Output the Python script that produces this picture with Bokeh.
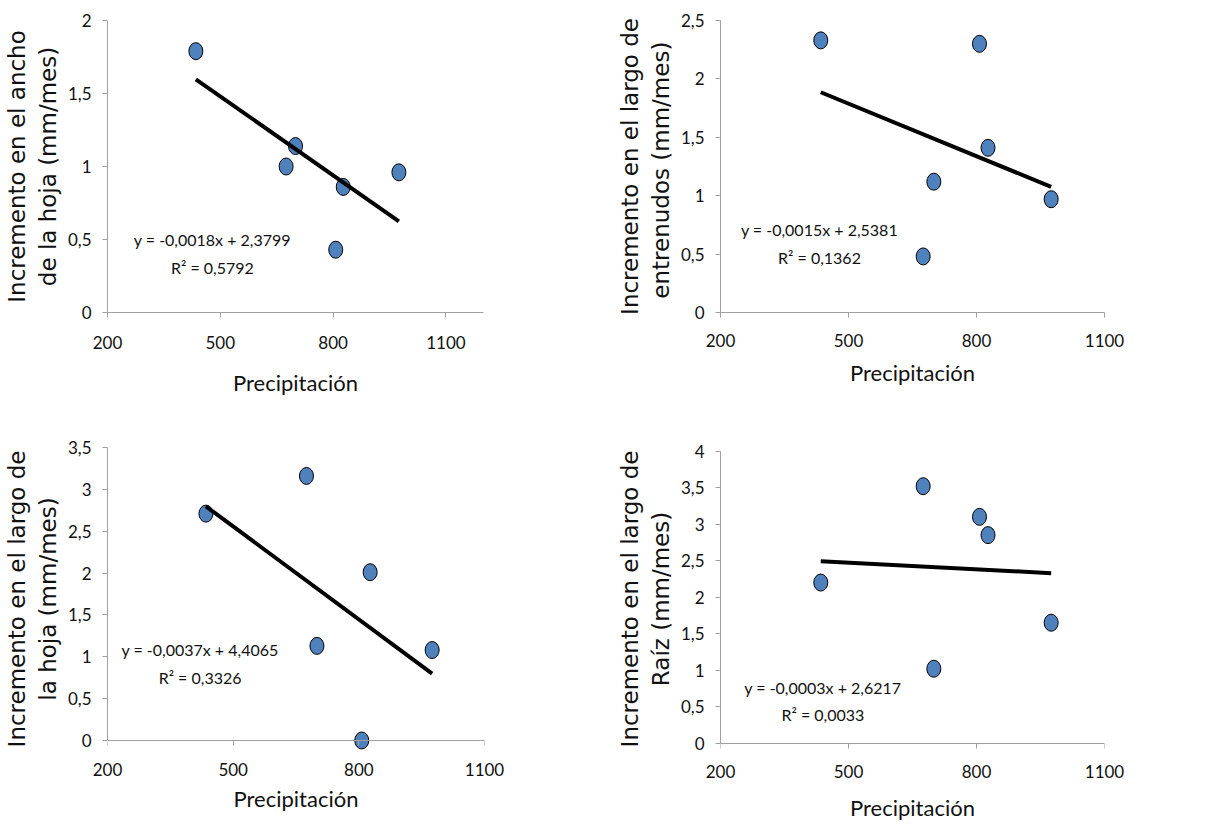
from bokeh.plotting import figure
from bokeh.layouts import column, row
from bokeh.models import Range1d, FixedTicker, Label, LinearAxis
from bokeh.embed import file_html
from bokeh.resources import INLINE

# ---------------- data ----------------
precipitacion = [435, 675, 700, 807, 827, 975]

ancho_hoja = [1.79, 1.00, 1.14, 0.43, 0.86, 0.96]
largo_entrenudos = [2.33, 0.48, 1.12, 2.30, 1.41, 0.97]
largo_hoja = [2.71, 3.16, 1.13, 0.00, 2.01, 1.08]
largo_raiz = [2.20, 3.52, 1.02, 3.10, 2.85, 1.65]

pendientes = [-0.0018, -0.0015, -0.0037, -0.0003]
interceptos = [2.3799, 2.5381, 4.4065, 2.6217]

ecuaciones = ["y = -0,0018x + 2,3799", "y = -0,0015x + 2,5381",
              "y = -0,0037x + 4,4065", "y = -0,0003x + 2,6217"]
r2_textos = ["R² = 0,5792", "R² = 0,1362", "R² = 0,3326", "R² = 0,0033"]

titulos_y = ["Incremento en el ancho\nde la hoja (mm/mes)",
             "Incremento en el largo de\nentrenudos  (mm/mes)",
             "Incremento en el largo de\nla hoja (mm/mes)",
             "Incremento en el largo de\nRaíz (mm/mes)"]
titulo_x = "Precipitación"

x_ticks = [200, 500, 800, 1100]
x_tick_labels = ["200", "500", "800", "1100"]

y_ticks_1 = [0, 0.5, 1, 1.5, 2]
y_labels_1 = ["0", "0,5", "1", "1,5", "2"]
y_ticks_2 = [0, 0.5, 1, 1.5, 2, 2.5]
y_labels_2 = ["0", "0,5", "1", "1,5", "2", "2,5"]
y_ticks_3 = [0, 0.5, 1, 1.5, 2, 2.5, 3, 3.5]
y_labels_3 = ["0", "0,5", "1", "1,5", "2", "2,5", "3", "3,5"]
y_ticks_4 = [0, 0.5, 1, 1.5, 2, 2.5, 3, 3.5, 4]
y_labels_4 = ["0", "0,5", "1", "1,5", "2", "2,5", "3", "3,5", "4"]

# ---------------- styling / layout ----------------
NARROW = "Lato"
WIDE = "DejaVu Sans"
AXIS_COLOR = "#A0A0A0"
MARK_COLOR = "#4F81BD"
TEXT_COLOR = "#111111"


def style_axis(ax):
    ax.axis_line_color = AXIS_COLOR
    ax.major_tick_line_color = AXIS_COLOR
    ax.minor_tick_line_color = None
    ax.major_tick_out = 5
    ax.major_tick_in = 0
    ax.major_label_text_font = NARROW
    ax.major_label_text_font_size = "17px"
    ax.major_label_text_color = TEXT_COLOR
    ax.axis_label_text_font_style = "normal"
    ax.axis_label_text_color = TEXT_COLOR


def panel(yvals, slope, icpt, eq, r2, ytitle, yticks, ylabels, xmax, yrange,
          w, h, borders, eq_pos, xtick_standoff, xlab_standoff):
    left, right, top, bottom = borders
    ylo, yhi = yrange
    p = figure(width=w, height=h, output_backend="svg", toolbar_location=None,
               x_range=Range1d(200, xmax), y_range=Range1d(ylo, yhi),
               min_border_left=left, min_border_right=right,
               min_border_top=top, min_border_bottom=bottom)
    p.outline_line_color = None
    p.xgrid.visible = False
    p.ygrid.visible = False
    p.background_fill_color = "white"
    p.border_fill_color = "white"

    xa = p.xaxis[0]
    ya = p.yaxis[0]
    style_axis(xa)
    style_axis(ya)

    xa.ticker = FixedTicker(ticks=x_ticks)
    xa.major_label_overrides = {t: l for t, l in zip(x_ticks, x_tick_labels)}
    xa.major_label_standoff = xtick_standoff
    xa.axis_label = titulo_x
    xa.axis_label_text_font = NARROW
    xa.axis_label_text_font_size = "22px"
    xa.axis_label_standoff = xlab_standoff

    ya.ticker = FixedTicker(ticks=yticks)
    ya.major_label_overrides = {t: l for t, l in zip(yticks, ylabels)}
    ya.major_label_standoff = 11
    ya.axis_label = ytitle
    ya.axis_label_text_font = WIDE
    ya.axis_label_text_font_size = "23px"
    ya.axis_label_standoff = 4
    ya.bounds = (yticks[0], yticks[-1])

    if ylo < 0:
        # frame extends a little below y = 0 so a marker sitting on 0 is whole;
        # the visible axis line + ticks sit on y = 0, labels stay on the frame axis
        xa.axis_line_color = None
        xa.major_tick_out = 0
        line_axis = LinearAxis(fixed_location=0, ticker=FixedTicker(ticks=x_ticks))
        style_axis(line_axis)
        line_axis.major_tick_out = 0
        line_axis.major_tick_in = 5
        line_axis.major_label_text_alpha = 0
        line_axis.major_label_text_font_size = "1px"
        line_axis.major_label_standoff = 0
        p.add_layout(line_axis, "above")

    p.ellipse(x=precipitacion, y=yvals, width=14, height=17,
              width_units="screen", height_units="screen",
              fill_color=MARK_COLOR, line_color="black", line_width=1)

    x0, x1 = min(precipitacion), max(precipitacion)
    p.line([x0, x1], [slope * x0 + icpt, slope * x1 + icpt],
           line_color="black", line_width=4)

    ex, ey1, ey2 = eq_pos
    for txt, yy in ((eq, ey1), (r2, ey2)):
        p.add_layout(Label(x=ex, y=yy, text=txt, text_align="center",
                           text_baseline="middle", text_font=NARROW,
                           text_font_size="16px", text_color=TEXT_COLOR))
    return p


f1 = panel(ancho_hoja, pendientes[0], interceptos[0], ecuaciones[0], r2_textos[0],
           titulos_y[0], y_ticks_1, y_labels_1, 1200, (0, 2),
           610, 410, (97, 127, 20, 98), (479, 0.50, 0.31), 18, 17)
f2 = panel(largo_entrenudos, pendientes[1], interceptos[1], ecuaciones[1], r2_textos[1],
           titulos_y[1], y_ticks_2, y_labels_2, 1100, (0, 2.5),
           611, 410, (110, 117, 20, 98), (432, 0.714, 0.471), 16, 9)
f3 = panel(largo_hoja, pendientes[2], interceptos[2], ecuaciones[2], r2_textos[2],
           titulos_y[2], y_ticks_3, y_labels_3, 1100, (-0.12, 3.5),
           610, 415, (99, 126, 37, 75), (421, 1.082, 0.756), 12, 6)
f4 = panel(largo_raiz, pendientes[3], interceptos[3], ecuaciones[3], r2_textos[3],
           titulos_y[3], y_ticks_4, y_labels_4, 1100, (-0.1, 4.05),
           611, 415, (110, 117, 37, 75), (440, 0.767, 0.393), 14, 13)

layout = column(row(f1, f2), row(f3, f4))

open("out.html", "w").write(file_html(layout, INLINE))
